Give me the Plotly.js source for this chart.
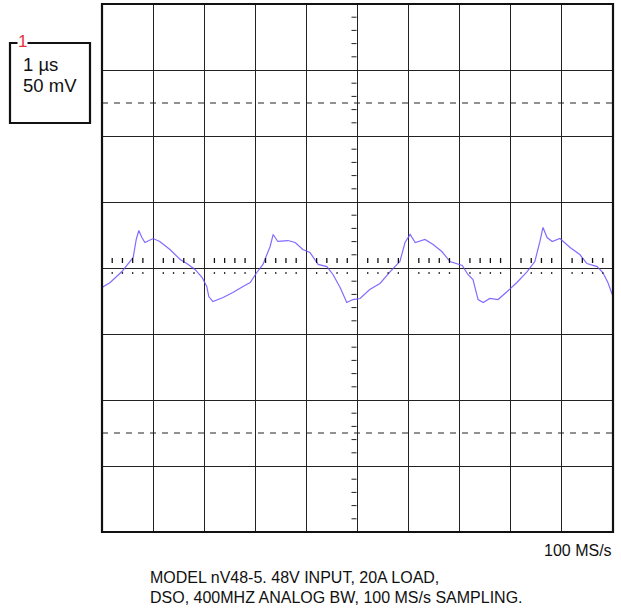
<!DOCTYPE html>
<html>
<head>
<meta charset="utf-8">
<script src="https://cdn.plot.ly/plotly-3.0.1.min.js"></script>
<style>html,body{margin:0;padding:0;background:#fff;}#chart{width:621px;height:613px;}</style>
</head>
<body>
<div id="chart"></div>
<script>
// Time in microseconds (1 µs/div), voltage in mV (50 mV/div)
const timeUs = [0, 0.16, 0.39, 0.61, 0.67, 0.72, 0.78, 0.84, 1.00, 1.13, 1.33, 1.53, 1.66, 1.82, 1.96, 2.05, 2.09, 2.17, 2.37, 2.56, 2.76, 2.90, 3.03, 3.15, 3.29, 3.35, 3.44, 3.64, 3.78, 3.93, 4.07, 4.23, 4.40, 4.52, 4.66, 4.79, 4.91, 5.05, 5.24, 5.44, 5.64, 5.83, 5.93, 6.03, 6.13, 6.32, 6.48, 6.65, 6.81, 7.05, 7.16, 7.26, 7.36, 7.46, 7.59, 7.75, 7.93, 8.12, 8.32, 8.47, 8.57, 8.63, 8.71, 8.81, 8.96, 9.16, 9.35, 9.49, 9.69, 9.80, 9.90, 10.0];
const voltMv = [-14.8, -11.0, -2.7, 8.0, 21.6, 28.4, 23.1, 19.3, 22.3, 20.1, 14.0, 6.4, 3.4, -1.1, -7.2, -14.0, -21.6, -25.4, -22.3, -18.6, -14.0, -11.0, -3.4, 2.7, 16.3, 25.4, 20.1, 20.8, 19.3, 14.0, 11.7, 2.7, 1.1, -4.9, -14.8, -26.1, -23.9, -23.1, -16.3, -11.7, -2.7, 4.9, 19.3, 25.4, 19.3, 21.6, 17.8, 12.5, 4.9, 1.9, -4.9, -8.7, -23.9, -26.1, -23.1, -23.9, -17.8, -11.0, -2.7, 4.9, 20.1, 30.7, 23.1, 20.1, 22.3, 15.5, 10.2, 3.4, 1.1, -3.4, -11.0, -21.6];

const xRange = [0, 10];
const yRange = [-200, 200];
const dashedLevels = [125, -125];
const channelLabel = "1";
const scaleLabels = ["1 \u00b5s", "50 mV"];
const rateLabel = "100 MS/s";
const captionLines = ["MODEL nV48-5. 48V INPUT, 20A LOAD,", "DSO, 400MHZ ANALOG BW, 100 MS/s SAMPLING."];

// geometry helpers (pixel -> paper)
const W = 621, H = 613, L = 102, R = 8, T = 4, B = 81;
const pw = W - L - R, ph = H - T - B;
const px = x => (x - L) / pw;
const py = y => (H - B - y) / ph;
const mvPerPx = (yRange[1] - yRange[0]) / ph;

const shapes = [];
// dashed reference lines
dashedLevels.forEach(v => shapes.push({type:'line', xref:'x', yref:'y', x0:xRange[0], x1:xRange[1], y0:v, y1:v, line:{color:'#222', width:1, dash:'6px,6px'}}));
// center line ticks (0.2 div)
for (let i = 0; i <= 50; i++) {
  if (i % 5 === 0) continue;
  const t = i * 0.2;
  shapes.push({type:'line', xref:'x', yref:'y', x0:t, x1:t, y0:5*mvPerPx, y1:10*mvPerPx, line:{color:'#111', width:1.3}});
  shapes.push({type:'line', xref:'x', yref:'y', x0:t, x1:t, y0:-4*mvPerPx, y1:-6*mvPerPx, line:{color:'#333', width:1.3}});
}
for (let i = -20; i <= 20; i++) {
  if (i % 5 === 0) continue;
  const v = i * 10;
  shapes.push({type:'line', xref:'x', yref:'y', x0:5 - 6*(10/pw), x1:5 - 1*(10/pw), y0:v, y1:v, line:{color:'#222', width:1}});
}
// outer frame
shapes.push({type:'rect', xref:'paper', yref:'paper', x0:0, x1:1, y0:0, y1:1, line:{color:'#111', width:2.2}});
// channel box
shapes.push({type:'rect', xref:'paper', yref:'paper', x0:px(10), x1:px(90), y0:py(123), y1:py(43), line:{color:'#111', width:2.2}});

const fam = 'Liberation Sans, Arial, Helvetica, sans-serif';
const boxFont = {family:fam, size:18.5, color:'#111'};
const capFont = {family:fam, size:16, color:'#111'};
const annotations = [
  {text:channelLabel, xref:'paper', yref:'paper', x:px(17), y:py(41), xanchor:'left', yanchor:'middle', showarrow:false, bgcolor:'#fff', borderpad:0, font:{family:fam, size:17, color:'#e8323c'}},
  {text:scaleLabels[0], xref:'paper', yref:'paper', x:px(21), y:py(64), xanchor:'left', yanchor:'middle', showarrow:false, font:boxFont},
  {text:scaleLabels[1], xref:'paper', yref:'paper', x:px(21), y:py(86), xanchor:'left', yanchor:'middle', showarrow:false, font:boxFont},
  {text:rateLabel, xref:'paper', yref:'paper', x:px(614), y:py(550), xanchor:'right', yanchor:'middle', showarrow:false, font:capFont},
  {text:captionLines[0], xref:'paper', yref:'paper', x:px(148), y:py(577), xanchor:'left', yanchor:'middle', showarrow:false, font:capFont},
  {text:captionLines[1], xref:'paper', yref:'paper', x:px(148), y:py(597), xanchor:'left', yanchor:'middle', showarrow:false, font:capFont}
];

const trace = {x: timeUs, y: voltMv, type:'scatter', mode:'lines', line:{color:'rgb(110,80,255)', width:1.2}, opacity:0.85, hoverinfo:'skip'};

const layout = {
  width: W, height: H,
  margin:{l:L, r:R, t:T, b:B, pad:0},
  paper_bgcolor:'#fff', plot_bgcolor:'#fff',
  showlegend:false,
  xaxis:{range:xRange, dtick:1, tick0:0, showgrid:true, gridcolor:'#222', gridwidth:1, zeroline:false, showticklabels:false, ticks:'', showline:false, fixedrange:true},
  yaxis:{range:yRange, dtick:50, tick0:0, showgrid:true, gridcolor:'#222', gridwidth:1, zeroline:false, showticklabels:false, ticks:'', showline:false, fixedrange:true},
  shapes: shapes,
  annotations: annotations
};

Plotly.newPlot('chart', [trace], layout, {staticPlot:true, displayModeBar:false});
</script>
</body>
</html>
